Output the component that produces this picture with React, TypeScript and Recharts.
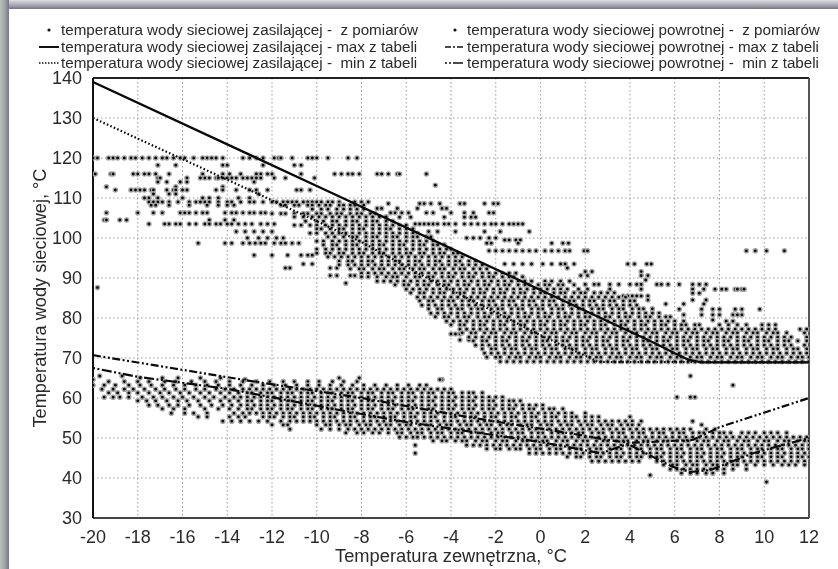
import {
  CartesianGrid,
  ComposedChart,
  Line,
  ReferenceLine,
  Scatter,
  XAxis,
  YAxis,
} from "recharts";

type Row = [number, number[]];

const xTicks = [-20, -18, -16, -14, -12, -10, -8, -6, -4, -2, 0, 2, 4, 6, 8, 10, 12];
const yTicks = [30, 40, 50, 60, 70, 80, 90, 100, 110, 120, 130, 140];

const supplyMax = [
  { x: -20, y: 139 }, { x: -10, y: 113 }, { x: 0, y: 87 }, { x: 5, y: 74 }, { x: 6, y: 71.2 },
  { x: 6.6, y: 69.6 }, { x: 7.2, y: 68.9 }, { x: 12, y: 68.9 },
];
const supplyMin = [
  { x: -20, y: 130 }, { x: -13, y: 112 }, { x: -8, y: 99 }, { x: -5.4, y: 91 }, { x: 0, y: 75.7 },
  { x: 2.6, y: 69 }, { x: 12, y: 68.9 },
];
const returnMax = [
  { x: -20, y: 70.7 }, { x: -13, y: 64.3 }, { x: -8, y: 60 }, { x: -3, y: 55 }, { x: 1.5, y: 51 },
  { x: 3, y: 49.5 }, { x: 4, y: 48.8 }, { x: 6.8, y: 49.5 }, { x: 8, y: 52.7 }, { x: 12, y: 60 },
];
const returnMin = [
  { x: -20, y: 67.5 }, { x: -18, y: 65.3 }, { x: -14, y: 62.3 }, { x: -9, y: 57 }, { x: -6, y: 54 },
  { x: -3, y: 51.5 }, { x: 0, y: 49 }, { x: 2.7, y: 46.2 }, { x: 3.9, y: 48.5 }, { x: 5.9, y: 42.8 },
  { x: 6.7, y: 41.5 }, { x: 7.6, y: 42 }, { x: 9.5, y: 46.2 }, { x: 12, y: 50 },
];

// measured supply temperature, outliers and the thin part of the cloud: [temperature, outdoor temps]
const supplySparseRows: Row[] = [
  [120, [-20, -19.8, -19.3, -19.1, -18.9, -18.6, -18.3, -18.1, -17.8, -17.5, -17.2, -16.9, -16.7, -16.4, -16.1, -15.9, -15.5, -15.1, -14.9, -14.7, -14.5, -14.2, -13.3, -13, -12.7, -12.4, -11.9, -11.7, -11.6, -11.1, -10.4, -10.2, -10, -9.5, -8.6, -8.2]],
  [118.2, [-17.1, -16.3, -14.2, -14, -12.4, -11, -10.7]],
  [116, [-19.9, -19.2, -19.1, -18.2, -18, -17.7, -17.5, -17.2, -16.6, -15.1, -14.2, -13.9, -13.4, -12.7, -12.5, -12.2, -12, -10.7, -9.2, -8.9, -8.6, -8.4, -8.1, -7.3, -7.1, -6.8, -6.4, -6.3, -5.1]],
  [115, [-17.1, -17, -15.8, -15.2, -15, -14.8, -14.5, -14.4, -14.2, -14, -13.8, -13.6, -13.3, -13.1, -12.9, -12.7, -12.5, -11.9, -11.4, -10.1]],
  [114, [-17.1, -16.7, -16.1, -15.8, -12.8]],
  [113.2, [-4.7]],
  [112.8, [-19.4, -16.3, -14.2]],
  [112, [-19, -18.3, -18.1, -17.9, -17.7, -17.4, -17.3, -16.7, -16.4, -16.3, -16, -15.8, -14.5, -14.2, -13.6, -13, -12.7, -12.2, -10.9, -10.7, -10.3]],
  [111, [-17.3, -16.6, -16.3, -12.6]],
  [110, [-17.7, -17.5, -17.1, -16, -15.1, -14.8, -14.4, -13.5, -13]],
  [109, [-17.5, -17.3, -17.1, -16.9, -16.6, -16.2, -15.7, -15.4, -15.2, -15, -14.8, -14.4, -14, -13.8, -13.4, -13, -12.8, -12.4, -12, -11.8, -11.5, -11.3, -11.1, -10.9, -10.6, -10.4, -10.2, -10, -9.8, -9.5, -9.3, -9, -8.3, -8, -7.7]],
  [108.6, [-6.8, -5.4, -5.2, -4.9, -4.5, -3.6, -3.4, -2.5, -2.1, -1.9]],
  [108.2, [-17.4, -17.2, -16.6, -15.7, -14.9, -14.4, -14, -13.7]],
  [107.4, [-7.3, -7.1, -6.4, -5.5, -4.4, -4.2]],
  [106.3, [-19.4, -18, -17.3, -16.9, -16.1, -15.9, -15.7, -15.4, -15.1, -14.9, -14.1, -13.8, -13.6, -13.3, -13, -12.8, -12.5, -12.3, -6.7, -6.5, -6.2, -5.9, -5.1, -4.8, -4, -3.4, -3, -2.3, -2.1]],
  [105.2, [-6.3, -5.8, -4.3, -3.4, -3.1, -2.9]],
  [104.5, [-19.5, -19.4, -18.8, -18.5, -14.8, -14.1, -13.7]],
  [103.5, [-17.5, -16.8, -16.6, -16.3, -16.1, -15.7, -15.4, -15, -14.8, -14.5, -14.3, -14, -13.8, -13.5, -13.2, -12.9, -12.5, -12.2, -11.9, -5.6, -5.4, -5.2, -5, -4.8, -4.6, -4.3, -4.1, -3.8, -3.4, -3.1, -2.8, -2.5, -2.2, -2, -1.7, -1.4, -1.2, -1, -0.8]],
  [101.6, [-13.6, -13.2, -12.8, -12.4, -12, -5, -4.6, -3.8, -2.5, -1.8, -0.5]],
  [100, [-13.1, -12.6, -12.2, -11.8, -11.5, -3.3, -3, -2.7, -2.3, -2]],
  [99.5, [-1.6, -1.4, -1.1, -0.9]],
  [98.7, [-15.3, -14.1, -13.8, -13.3, -13, -12.75, -12.5, -12.3, -11.9, -11.6, -11.4, -11.1, -10.8, -2.4, -2.2, -1, 0.5, 1, 1.25]],
  [96.8, [-2.3, -2, -1.7, -1.4, -1.1, -0.8, -0.5, -0.2, 0.2, 0.5, 0.8, 1.1, 1.3, 1.95, 2.1, 9.2, 9.6, 10.1, 10.9]],
  [95.7, [-12.8, -12, -11.3, -10.7, -10.4, -10.2]],
  [93.5, [-10.6, -10.2, -1.6, -1.2, -0.8, -0.4, 0.1, 0.5, 0.9, 1.1, 1.5, 3.9, 4.2, 4.75, 4.95]],
  [92.5, [-11.4, -11.2, -9.4, -9.1, 1.2]],
  [91.6, [2, 2.3, 4.5]],
  [90.6, [-9.4, -9.1, -8.5, -8.3, 1.8, 2.1, 4.5, 4.8]],
  [89.5, [4.7]],
  [88.7, [-8.7]],
  [88.4, [2, 2.4, 2.6, 3.1, 3.5, 4, 4.3, 4.5, 5.2, 5.4, 5.7, 6.2, 6.8, 7.1, 7.4]],
  [87.6, [-19.8]],
  [87.2, [2.1, 3.1, 4.5, 6.8, 7.3, 7.8, 8.1, 8.3, 8.7, 8.8, 9, 9.1]],
  [86.2, [6.8, 7.1]],
  [85.5, [3.7, 3.9, 4.1, 4.3, 4.5, 4.8]],
  [84.5, [4.8, 6.8, 7.4]],
  [83.5, [5.6, 6.4, 7.3]],
  [82.2, [6.2, 7.2, 7.7, 8, 8.7, 9, 9.8]],
  [80.8, [6.4, 7.2, 7.7, 8, 8.6, 8.8, 9]],
  [79.5, [7.7]],
  [76, [-4, -3.8, -3.6]],
  [74.5, [-3.2, -3.6]],
];

// the thick part of the supply cloud
const supplyDenseRows: Row[] = [
  [108.2, [-11.6, -11.4, -11, -10.8, -10.4, -10.2, -9.9, -9.6, -9.4, -9, -8.8, -8.5, -8.3, -7.9]],
  [107.2, [-10.2, -9.8, -9.5, -9.1, -8.8, -8.5, -8.2, -7.9]],
  [106.1, [-12, -11.6, -11.4, -11, -10.6, -10.4, -10, -9.8, -9.4, -9.1, -8.9, -8.5, -8.2, -8, -7.6, -7.4]],
  [105.3, [-11, -10.6, -10.2, -9.9, -9.6, -9.3, -9, -8.7, -8.4, -8.1, -7.8, -7.5, -7.2, -6.9]],
  [104.2, [-10.5, -10, -9.7, -9.3, -9.1, -8.7, -8.4, -8.2, -7.8, -7.5, -7.3, -6.9, -6.6]],
  [103.2, [-11, -10.7, -10.3, -10, -9.6, -9.3, -9, -8.7, -8.4, -8.1, -7.8, -7.5, -7.2, -6.9, -6.6, -6.3, -6]],
  [102.3, [-10, -9.8, -9.4, -9, -8.8, -8.4, -8.1, -7.9, -7.5, -7.2, -6.9, -6.7, -6.3, -6, -5.7]],
  [101.2, [-10.3, -10, -9.6, -9.3, -9, -8.7, -8.4, -8.1, -7.8, -7.5, -7.2, -6.9, -6.6, -6.3, -6, -5.7, -5.5]],
  [100.3, [-9.5, -9.2, -8.8, -8.4, -8.2, -7.8, -7.5, -7.3, -6.9, -6.6, -6.4, -6, -5.7, -5.5, -5.1, -4.9]],
  [99.2, [-10, -9.7, -9.3, -9, -8.7, -8.4, -8.1, -7.8, -7.5, -7.2, -6.9, -6.6, -6.3, -6, -5.7, -5.4, -5.1, -4.8]],
  [98.3, [-9.7, -9.3, -9.1, -8.7, -8.4, -8.2, -7.8, -7.5, -7.2, -7, -6.6, -6.3, -6.1, -5.7, -5.4, -5.2, -4.8, -4.6, -4.3]],
  [97.2, [-10, -9.6, -9.3, -9, -8.7, -8.4, -8.1, -7.8, -7.5, -7.2, -6.9, -6.6, -6.3, -6, -5.7, -5.4, -5.1, -4.8, -4.5, -4.2, -4]],
  [96.2, [-10, -9.6, -9.4, -9, -8.8, -8.4, -8.1, -7.9, -7.5, -7.2, -7, -6.6, -6.3, -6, -5.8, -5.4, -5.2, -4.8, -4.5, -4.3, -3.9, -3.7]],
  [95.3, [-9.5, -9.2, -8.9, -8.6, -8.3, -8, -7.7, -7.4, -7.1, -6.8, -6.5, -6.2, -5.9, -5.6, -5.3, -5, -4.7, -4.4, -4.1, -3.8, -3.5]],
  [94.2, [-9, -8.6, -8.4, -8, -7.7, -7.5, -7.1, -6.8, -6.5, -6.3, -5.9, -5.6, -5.4, -5, -4.7, -4.5, -4.1, -3.8, -3.6, -3.2, -2.9]],
  [93.3, [-9, -8.6, -8.3, -8, -7.7, -7.4, -7.1, -6.8, -6.5, -6.2, -5.9, -5.6, -5.3, -5, -4.7, -4.4, -4.1, -3.8, -3.5, -3.2, -2.9, -2.6]],
  [92.3, [-8.5, -8.1, -7.9, -7.5, -7.2, -7, -6.6, -6.3, -6.1, -5.7, -5.4, -5.2, -4.8, -4.5, -4.3, -3.9, -3.6, -3.4, -3, -2.7, -2.4]],
  [91.2, [-8, -7.7, -7.4, -7.1, -6.8, -6.5, -6.2, -5.9, -5.6, -5.3, -5, -4.7, -4.4, -4.1, -3.8, -3.5, -3.2, -2.9, -2.6, -2.3, -2, -1.7, -1.4, -1.1]],
  [90.3, [-8, -7.7, -7.3, -6.9, -6.6, -6.4, -6, -5.6, -5.4, -5, -4.8, -4.4, -4.1, -3.9, -3.5, -3.2, -3, -2.6, -2.3, -2.1, -1.7, -1.4, -1.2, -0.8]],
  [89.2, [-7.3, -7, -6.7, -6.4, -6.1, -5.8, -5.5, -5.2, -4.9, -4.6, -4.3, -4, -3.7, -3.4, -3.1, -2.8, -2.5, -2.2, -1.9, -1.6, -1.3, -1, -0.7, -0.4, 0.2, 0.5, 0.9, 1.3]],
  [88.3, [-6.5, -6.1, -5.9, -5.5, -5.2, -5, -4.6, -4.3, -4.1, -3.7, -3.4, -3.2, -2.8, -2.5, -2.3, -1.9, -1.6, -1.4, -1, -0.7, -0.5, -0.1, 0.2, 0.4, 0.8, 1, 1.5]],
  [87.2, [-6, -5.7, -5.4, -5.1, -4.8, -4.5, -4.2, -3.9, -3.6, -3.3, -3, -2.7, -2.4, -2.1, -1.8, -1.5, -1.2, -0.9, -0.6, -0.3, 0, 0.3, 0.6, 0.9, 1.2, 1.7]],
  [86.3, [-5.8, -5.4, -5.2, -4.8, -4.5, -4.3, -3.9, -3.6, -3.4, -3, -2.7, -2.5, -2.1, -1.8, -1.6, -1.2, -0.9, -0.7, -0.3, 0, 0.2, 0.6, 0.9, 1.1, 1.5, 1.8, 2, 2.4, 2.7, 3, 3.3]],
  [85.2, [-5.5, -5.2, -4.9, -4.6, -4.3, -4, -3.7, -3.4, -3.1, -2.8, -2.5, -2.2, -1.9, -1.6, -1.3, -1, -0.7, -0.4, -0.1, 0.2, 0.5, 0.8, 1.1, 1.4, 1.7, 2, 2.3, 2.6, 2.9, 3.2, 3.5, 3.8]],
  [84.3, [-5.4, -5, -4.8, -4.4, -4.1, -3.9, -3.5, -3.2, -3, -2.6, -2.3, -2.1, -1.7, -1.4, -1.2, -0.8, -0.5, -0.3, 0.1, 0.4, 0.6, 1, 1.3, 1.5, 1.9, 2.2, 2.4, 2.8, 3.1, 3.3, 3.7, 4, 4.2]],
  [83.2, [-5.3, -5, -4.7, -4.4, -4.1, -3.8, -3.5, -3.2, -2.9, -2.6, -2.3, -2, -1.7, -1.4, -1.1, -0.8, -0.5, -0.2, 0.1, 0.4, 0.7, 1, 1.3, 1.6, 1.9, 2.2, 2.5, 2.8, 3.1, 3.4, 3.7, 4, 4.3]],
  [82.3, [-5, -4.6, -4.4, -4, -3.7, -3.5, -3.1, -2.8, -2.6, -2.2, -1.9, -1.7, -1.3, -1, -0.8, -0.4, -0.1, 0.1, 0.5, 0.8, 1, 1.4, 1.7, 1.9, 2.3, 2.6, 2.8, 3.2, 3.5, 3.7, 4.1, 4.4, 4.6, 5]],
  [81.2, [-4.9, -4.6, -4.3, -4, -3.7, -3.4, -3.1, -2.8, -2.5, -2.2, -1.9, -1.6, -1.3, -1, -0.7, -0.4, -0.1, 0.2, 0.5, 0.8, 1.1, 1.4, 1.7, 2, 2.3, 2.6, 2.9, 3.2, 3.5, 3.8, 4.1, 4.4, 4.7, 5, 5.3]],
  [80.3, [-4.7, -4.3, -4.1, -3.7, -3.4, -3.2, -2.8, -2.5, -2.3, -1.9, -1.6, -1.4, -1, -0.7, -0.5, -0.1, 0.2, 0.4, 0.8, 1.1, 1.3, 1.7, 2, 2.2, 2.6, 2.9, 3.1, 3.5, 3.8, 4, 4.4, 4.7, 4.9, 5.3, 5.6, 5.8]],
  [79.2, [-4.2, -3.9, -3.6, -3.3, -3, -2.7, -2.4, -2.1, -1.8, -1.5, -1.2, -0.9, -0.6, -0.3, 0, 0.3, 0.6, 0.9, 1.2, 1.5, 1.8, 2.1, 2.4, 2.7, 3, 3.3, 3.6, 3.9, 4.2, 4.5, 4.8, 5.1, 5.4, 5.7, 6, 6.4, 8.3, 8.6]],
  [78.3, [-4, -3.6, -3.4, -3, -2.7, -2.5, -2.1, -1.8, -1.6, -1.2, -0.9, -0.7, -0.3, 0, 0.2, 0.6, 0.9, 1.1, 1.5, 1.8, 2, 2.4, 2.7, 2.9, 3.3, 3.6, 3.8, 4.2, 4.5, 4.7, 5.1, 5.4, 5.6, 6, 6.3, 6.5, 6.9, 7.1, 8, 8.4, 8.8, 9.2, 9.9, 10.2, 10.5]],
  [77.2, [-3.6, -3.3, -3, -2.7, -2.4, -2.1, -1.8, -1.5, -1.2, -0.9, -0.6, -0.3, 0, 0.3, 0.6, 0.9, 1.2, 1.5, 1.8, 2.1, 2.4, 2.7, 3, 3.3, 3.6, 3.9, 4.2, 4.5, 4.8, 5.1, 5.4, 5.7, 6, 6.3, 6.6, 6.9, 7.2, 7.5, 7.8, 8.1, 8.4, 8.7, 9, 9.3, 9.6, 9.9, 10.2, 10.5, 11.6, 11.9]],
  [76.3, [-3.5, -3.1, -2.9, -2.5, -2.2, -2, -1.6, -1.3, -1.1, -0.7, -0.4, -0.2, 0.2, 0.5, 0.7, 1.1, 1.4, 1.6, 2, 2.3, 2.5, 2.9, 3.2, 3.4, 3.8, 4.1, 4.3, 4.7, 5, 5.2, 5.6, 5.9, 6.1, 6.5, 6.8, 7, 7.4, 7.7, 7.9, 8.3, 8.6, 8.8, 9.2, 9.5, 9.7, 10.1, 10.4, 10.6, 11, 11.8]],
  [75.2, [-3.2, -2.9, -2.6, -2.3, -2, -1.7, -1.4, -1.1, -0.8, -0.5, -0.2, 0.1, 0.4, 0.7, 1, 1.3, 1.6, 1.9, 2.2, 2.5, 2.8, 3.1, 3.4, 3.7, 4, 4.3, 4.6, 4.9, 5.2, 5.5, 5.8, 6.1, 6.4, 6.7, 7, 7.3, 7.6, 7.9, 8.2, 8.5, 8.8, 9.1, 9.4, 9.7, 10, 10.3, 10.6, 10.9, 11.2, 11.9]],
  [74.3, [-3, -2.6, -2.4, -2, -1.7, -1.5, -1.1, -0.8, -0.6, -0.2, 0.1, 0.3, 0.7, 1, 1.2, 1.6, 1.9, 2.1, 2.5, 2.8, 3, 3.4, 3.7, 3.9, 4.3, 4.6, 4.8, 5.2, 5.5, 5.7, 6.1, 6.4, 6.6, 7, 7.3, 7.5, 7.9, 8.2, 8.4, 8.8, 9.1, 9.3, 9.7, 10, 10.2, 10.6, 10.9, 11.1, 11.5, 11.9]],
  [73.2, [-2.9, -2.6, -2.3, -2, -1.7, -1.4, -1.1, -0.8, -0.5, -0.2, 0.1, 0.4, 0.7, 1, 1.3, 1.6, 1.9, 2.2, 2.5, 2.8, 3.1, 3.4, 3.7, 4, 4.3, 4.6, 4.9, 5.2, 5.5, 5.8, 6.1, 6.4, 6.7, 7, 7.3, 7.6, 7.9, 8.2, 8.5, 8.8, 9.1, 9.4, 9.7, 10, 10.3, 10.6, 10.9, 11.2, 11.8]],
  [72.3, [-2.6, -2.2, -2, -1.6, -1.3, -1.1, -0.7, -0.4, -0.2, 0.2, 0.5, 0.7, 1.1, 1.4, 1.6, 2, 2.3, 2.5, 2.9, 3.2, 3.4, 3.8, 4.1, 4.3, 4.7, 5, 5.2, 5.6, 5.9, 6.1, 6.5, 6.8, 7, 7.4, 7.7, 7.9, 8.3, 8.6, 8.8, 9.2, 9.5, 9.7, 10.1, 10.4, 10.6, 11, 11.3, 11.5, 11.9]],
  [71.2, [-2.5, -2.2, -1.9, -1.6, -1.3, -1, -0.7, -0.4, -0.1, 0.2, 0.5, 0.8, 1.1, 1.4, 1.7, 2, 2.3, 2.6, 2.9, 3.2, 3.5, 3.8, 4.1, 4.4, 4.7, 5, 5.3, 5.6, 5.9, 6.2, 6.5, 6.8, 7.1, 7.4, 7.7, 8, 8.3, 8.6, 8.9, 9.2, 9.5, 9.8, 10.1, 10.4, 10.7, 11, 11.3, 11.6, 11.9]],
  [70.2, [-2.4, -2, -1.8, -1.4, -1.1, -0.9, -0.5, -0.2, 0, 0.4, 0.7, 0.9, 1.3, 1.6, 1.8, 2.2, 2.5, 2.7, 3.1, 3.4, 3.6, 4, 4.3, 4.5, 4.9, 5.2, 5.4, 5.8, 6.1, 6.3, 6.7, 7, 7.2, 7.6, 7.9, 8.1, 8.5, 8.8, 9, 9.4, 9.7, 9.9, 10.3, 10.6, 10.8, 11.2, 11.5, 11.7, 12]],
  [69.1, [-1.8, -1.5, -1.2, -0.9, -0.6, -0.3, 0, 0.3, 0.6, 0.9, 1.2, 1.5, 1.8, 2.1, 2.4, 2.7, 3, 3.3, 3.6, 3.9, 4.2, 4.5, 4.8, 5.1, 5.4, 5.7, 6, 6.3, 6.6, 6.9, 7.2, 7.5, 7.8, 8.1, 8.4, 8.7, 9, 9.3, 9.6, 9.9, 10.2, 10.5, 10.8, 11.1, 11.4, 11.7, 12]],
];

// measured return temperature
const returnRows: Row[] = [
  [65.5, [-19.7, -18.7, 6.7]],
  [65, [-17.9, -16.9, -16.2, -15.2, -14.3, -9, -8.1]],
  [64.6, [-20, -13.2, -4.4, -4.5]],
  [64.1, [-19.3, -18.6, -18, -17.5, -16.8, -16.3, -15.6, -15, -14.5, -13.9, -13.3, -12.7, -12.1, -11.5, -11, -10.4, -9.9, -9.3, -8.8, -8.2]],
  [63.2, [-20, -19.5, -19, -18.4, -17.9, -17.4, -16.9, -16.4, -15.9, -15.4, -14.9, -14.4, -13.9, -13.4, -12.9, -12.4, -11.9, -11.4, -10.9, -10.4, -9.9, -9.4, -8.9, -8.4, -7.9, -7.4, -6.9, -6.4, -5.9, -5.4, -5.1, 8.6]],
  [62.2, [-19.6, -19.1, -18.6, -18.2, -17.7, -17.2, -16.8, -16.3, -15.9, -15.4, -15, -14.5, -14.1, -13.7, -13.3, -13, -12.7, -12.4, -12.1, -11.8, -11.5, -11.2, -10.9, -10.6, -10.3, -10, -9.7, -9.4, -9.1, -8.8, -8.5, -8.2, -7.9, -7.6, -7.3, -7, -6.7, -6.4, -6.1, -5.8, -5.5, -5.2, -4.9, -4.6, -4.3, -4]],
  [61.3, [-19.3, -18.9, -18.4, -18, -17.5, -17, -16.6, -16.1, -15.7, -15.2, -14.8, -14.3, -13.9, -13.5, -13.1, -12.9, -12.5, -12.2, -12, -11.6, -11.3, -11.1, -10.7, -10.4, -10.2, -9.8, -9.5, -9.3, -8.9, -8.6, -8.4, -8, -7.7, -7.5, -7.1, -6.8, -6.6, -6.2, -5.9, -5.7, -5.3, -5, -4.8, -4.4, -4.1, -3.9, -3.5, -3.2, -3, -2.6]],
  [60.2, [-19.5, -19.1, -18.8, -18.4, -17.8, -17.3, -16.9, -16.4, -16, -15.5, -15, -14.6, -14.1, -13.7, -13.4, -13.1, -12.8, -12.5, -12.2, -11.9, -11.6, -11.3, -11, -10.7, -10.4, -10.1, -9.8, -9.5, -9.2, -8.9, -8.6, -8.3, -8, -7.7, -7.4, -7.1, -6.8, -6.5, -6.2, -5.9, -5.6, -5.3, -5, -4.7, -4.4, -4.1, -3.8, -3.5, -3.2, -2.9, -2.6, -2.3, -2, -1.7, 6.1, 6.7, 6.9]],
  [59.3, [-18, -17.6, -17.2, -16.7, -16.2, -15.8, -15.3, -14.8, -14.3, -13.9, -13.5, -13.1, -12.9, -12.5, -12.2, -12, -11.6, -11.3, -11.1, -10.7, -10.4, -10.2, -9.8, -9.5, -9.3, -8.9, -8.6, -8.4, -8, -7.7, -7.5, -7.1, -6.8, -6.6, -6.2, -5.9, -5.7, -5.3, -5, -4.8, -4.4, -4.1, -3.9, -3.5, -3.2, -3, -2.6, -2.3, -2.1, -1.7, -1.4, -1.2, -0.9]],
  [58.2, [-17.5, -17.1, -16.6, -16.2, -15.7, -15.2, -14.7, -14.2, -13.8, -13.4, -13.1, -12.8, -12.5, -12.2, -11.9, -11.6, -11.3, -11, -10.7, -10.4, -10.1, -9.8, -9.5, -9.2, -8.9, -8.6, -8.3, -8, -7.7, -7.4, -7.1, -6.8, -6.5, -6.2, -5.9, -5.6, -5.3, -5, -4.7, -4.4, -4.1, -3.8, -3.5, -3.2, -2.9, -2.6, -2.3, -2, -1.7, -1.4, -1.1, -0.8, -0.5, -0.2, 0.1]],
  [57.3, [-16.9, -16.4, -15.9, -15, -14.4, -13.9, -13.5, -13.1, -12.9, -12.5, -12.2, -12, -11.6, -11.3, -11.1, -10.7, -10.4, -10.2, -9.8, -9.5, -9.3, -8.9, -8.6, -8.4, -8, -7.7, -7.5, -7.1, -6.8, -6.6, -6.2, -5.9, -5.7, -5.3, -5, -4.8, -4.4, -4.1, -3.9, -3.5, -3.2, -3, -2.6, -2.3, -2.1, -1.7, -1.4, -1.2, -0.8, -0.5, -0.3, 0.1, 0.4, 0.6, 1]],
  [56.2, [-16.5, -15.9, -15.5, -14.9, -13.7, -13.3, -13, -12.7, -12.4, -12.1, -11.8, -11.5, -11.2, -10.9, -10.6, -10.3, -10, -9.7, -9.4, -9.1, -8.8, -8.5, -8.2, -7.9, -7.6, -7.3, -7, -6.7, -6.4, -6.1, -5.8, -5.5, -5.2, -4.9, -4.6, -4.3, -4, -3.7, -3.4, -3.1, -2.8, -2.5, -2.2, -1.9, -1.6, -1.3, -1, -0.7, -0.4, -0.1, 0.2, 0.5, 0.8, 1.1, 1.4, 2]],
  [55.3, [-15.3, -14.9, -13.9, -13.5, -13.2, -12.4, -12.1, -11.9, -11.5, -11.2, -11, -10.6, -10.3, -10.1, -9.7, -9.4, -9.2, -8.8, -8.5, -8.3, -7.9, -7.6, -7.4, -7, -6.7, -6.5, -6.1, -5.8, -5.6, -5.2, -4.9, -4.7, -4.3, -4, -3.8, -3.4, -3.1, -2.9, -2.5, -2.2, -2, -1.6, -1.3, -1.1, -0.7, -0.4, -0.2, 0.2, 0.5, 0.7, 1.1, 1.4, 1.6, 2, 2.3, 2.6, 4]],
  [54.2, [-14.2, -13.8, -13.4, -13, -12.6, -12.2, -11.6, -11.2, -10.9, -10.6, -10.3, -10, -9.7, -9.4, -9.1, -8.8, -8.5, -8.2, -7.9, -7.6, -7.3, -7, -6.7, -6.4, -6.1, -5.8, -5.5, -5.2, -4.9, -4.6, -4.3, -4, -3.7, -3.4, -3.1, -2.8, -2.5, -2.2, -1.9, -1.6, -1.3, -1, -0.7, -0.4, -0.1, 0.2, 0.5, 0.8, 1.1, 1.4, 1.7, 2, 2.3, 2.6, 2.9, 3.2, 3.5, 3.8, 4.1, 4.5, 6.8]],
  [53.3, [-12, -11.5, -11.3, -10, -9.6, -9.4, -9, -8.7, -8.5, -8.1, -7.8, -7.6, -7.2, -6.9, -6.7, -6.3, -6, -5.8, -5.4, -5.1, -4.9, -4.5, -4.2, -4, -3.6, -3.3, -3.1, -2.7, -2.4, -2.2, -1.8, -1.5, -1.3, -0.9, -0.6, -0.4, 0, 0.3, 0.5, 0.9, 1.2, 1.4, 1.8, 2.1, 2.3, 2.7, 3, 3.2, 3.6, 3.9, 4.1, 4.4, 7.2]],
  [52.2, [-11.2, -9.8, -9.4, -9, -8.6, -8.3, -8, -7.7, -7.4, -7.1, -6.8, -6.5, -6.2, -5.9, -5.6, -5.3, -5, -4.7, -4.4, -4.1, -3.8, -3.5, -3.2, -2.9, -2.6, -2.3, -2, -1.7, -1.4, -1.1, -0.8, -0.5, -0.2, 0.1, 0.4, 0.7, 1, 1.3, 1.6, 1.9, 2.2, 2.5, 2.8, 3.1, 3.4, 3.7, 4, 4.3, 4.6, 4.9, 5.2, 5.5, 5.8, 6.1, 6.4, 6.7, 7.4, 7.8]],
  [51.3, [-8.7, -8.2, -7.9, -7.5, -7.2, -6.8, -6.4, -6.2, -5.8, -5.5, -5.3, -4.9, -4.6, -4.4, -4, -3.7, -3.5, -3.1, -2.8, -2.6, -2.2, -1.9, -1.7, -1.3, -1, -0.8, -0.4, -0.1, 0.1, 0.5, 0.8, 1, 1.4, 1.7, 1.9, 2.3, 2.6, 2.8, 3.2, 3.5, 3.7, 4.1, 4.4, 4.6, 5, 5.3, 5.5, 5.9, 6.2, 6.4, 6.8, 7.1, 7.3, 7.7, 8, 8.2, 8.5, 9, 9.3, 9.6, 10, 10.3, 10.6, 11]],
  [50.2, [-6.3, -6, -5.7, -5.5, -5.2, -4.9, -4.6, -4.3, -4, -3.7, -3.4, -3.1, -2.8, -2.5, -2.2, -1.9, -1.6, -1.3, -1, -0.7, -0.4, -0.1, 0.2, 0.5, 0.8, 1.1, 1.4, 1.7, 2, 2.3, 2.6, 2.9, 3.2, 3.5, 3.8, 4.1, 4.4, 4.7, 5, 5.3, 5.6, 5.9, 6.2, 6.5, 6.8, 7.1, 7.4, 7.7, 8, 8.3, 8.6, 8.9, 9.2, 9.5, 9.8, 10.1, 10.4, 10.7, 11, 11.3, 11.6, 11.9]],
  [49.3, [-4.8, -4.4, -4.2, -3.8, -3.5, -3.3, -2.9, -2.6, -2.4, -2, -1.7, -1.5, -1.1, -0.8, -0.6, -0.2, 0.1, 0.3, 0.7, 1, 1.2, 1.6, 1.9, 2.1, 2.5, 2.8, 3, 3.4, 3.7, 3.9, 4.3, 4.6, 4.8, 5.2, 5.5, 5.7, 6.1, 6.4, 6.6, 7, 7.3, 7.5, 7.9, 8.2, 8.4, 8.8, 9.1, 9.3, 9.7, 10, 10.2, 10.6, 10.9, 11.1, 11.5, 11.8, 12]],
  [48.2, [-5.6, -3.3, -3, -2.7, -2.4, -2.1, -1.8, -1.5, -1.2, -0.9, -0.6, -0.3, 0, 0.3, 0.6, 0.9, 1.2, 1.5, 1.8, 2.1, 2.4, 2.7, 3, 3.3, 3.6, 3.9, 4.2, 4.5, 4.8, 5.1, 5.4, 5.7, 6, 6.3, 6.6, 6.9, 7.2, 7.5, 7.8, 8.1, 8.4, 8.7, 9, 9.3, 9.6, 9.9, 10.2, 10.5, 10.8, 11.1, 11.4, 11.7, 12]],
  [47.3, [-2.4, -2, -1.8, -1.4, -1.1, -0.9, -0.5, -0.2, 0, 0.4, 0.7, 0.9, 1.3, 1.6, 1.8, 2.2, 2.5, 2.7, 3.1, 3.4, 3.6, 4, 4.3, 4.5, 4.9, 5.2, 5.4, 5.8, 6.1, 6.3, 6.7, 7, 7.2, 7.6, 7.9, 8.1, 8.5, 8.8, 9, 9.4, 9.7, 9.9, 10.3, 10.6, 10.8, 11.2, 11.5, 11.7, 12]],
  [46.2, [-5.6, -0.5, -0.2, 0.1, 0.4, 0.7, 1, 1.3, 1.6, 1.9, 2.2, 2.5, 2.8, 3.1, 3.4, 3.7, 4, 4.3, 4.6, 4.9, 5.2, 5.5, 5.8, 6.1, 6.4, 6.7, 7, 7.3, 7.6, 7.9, 8.2, 8.5, 8.8, 9.1, 9.4, 9.7, 10, 10.3, 10.6, 10.9, 11.2, 11.5, 11.8]],
  [45.3, [1.2, 1.6, 1.8, 2.2, 2.5, 2.7, 3.1, 3.4, 3.6, 4, 4.3, 4.5, 4.9, 5.2, 5.4, 5.8, 6.1, 6.3, 6.7, 7, 7.2, 7.6, 7.9, 8.1, 8.5, 8.8, 9, 9.4, 9.7, 9.9, 10.3, 10.6, 10.8, 11.2, 11.5, 11.7, 12]],
  [44.2, [2.3, 2.6, 2.9, 3.2, 3.5, 3.8, 4.1, 4.4, 5.2, 5.5, 5.8, 6.1, 6.4, 6.7, 7, 7.3, 7.6, 7.9, 8.2, 8.5, 8.8, 9.1, 9.4, 9.7, 10, 10.3, 10.6, 10.9, 11.2, 11.5, 11.8]],
  [43.3, [5.5, 5.9, 6.1, 6.5, 6.8, 7, 7.4, 7.7, 7.9, 8.3, 8.6, 8.8, 9.2, 9.6, 10, 10.4, 10.8, 11.1, 11.4, 11.8]],
  [42.2, [5.8, 6.1, 6.4, 6.7, 7, 7.3, 7.6, 7.9, 8.2, 8.6, 9.2]],
  [41.2, [6.3, 6.7, 7, 7.4, 7.7, 8.2]],
  [40.7, [4.9]],
  [39, [10.1]],
];

const legendLeft = [
  "temperatura wody sieciowej zasilającej -  z pomiarów",
  "temperatura wody sieciowej zasilającej - max z tabeli",
  "temperatura wody sieciowej zasilającej -  min z tabeli",
];
const legendRight = [
  "temperatura wody sieciowej powrotnej -  z pomiarów",
  "temperatura wody sieciowej powrotnej - max z tabeli",
  "temperatura wody sieciowej powrotnej -  min z tabeli",
];

const toPoints = (rows: Row[]) => rows.flatMap(([y, xs]) => xs.map((x) => ({ x, y })));
const supplyPoints = [...toPoints(supplySparseRows), ...toPoints(supplyDenseRows)];
const returnPoints = toPoints(returnRows);

const FONT = "'Liberation Sans', Arial, sans-serif";
const INK = "#2a2a2a";
const DASH_MAX = "8 2.5 2 2.5 2 2.5";
const DASH_MIN = "2 2.5 2 2.5 10 2.5";

function Dot({ cx, cy }: { cx?: number; cy?: number }) {
  return <circle cx={cx} cy={cy} r={2.1} fill="#0a0a0a" stroke="#a6a6a6" strokeWidth={1.4} />;
}

function LegendSymbol({ kind }: { kind: number }) {
  return (
    <svg width={20} height={10} style={{ position: "absolute", left: -22, top: 4 }}>
      {kind === 0 ? (
        <circle cx={10} cy={5} r={1.6} fill="#111" />
      ) : (
        <line
          x1={0}
          y1={5}
          x2={20}
          y2={5}
          stroke="#111"
          strokeWidth={kind === 1 ? 2 : 1.6}
          strokeDasharray={kind === 2 ? "1.5 1.5" : kind === 3 ? "6 2 2 2 6" : kind === 4 ? "2 2 2 2 10" : undefined}
        />
      )}
    </svg>
  );
}

function LegendColumn({ left, items, kinds }: { left: number; items: string[]; kinds: number[] }) {
  return (
    <>
      {items.map((text, i) => (
        <div
          key={text}
          style={{
            position: "absolute",
            left,
            top: 21 + i * 16.5,
            fontFamily: FONT,
            fontSize: 15.2,
            lineHeight: "17px",
            color: INK,
            whiteSpace: "pre",
          }}
        >
          <LegendSymbol kind={kinds[i]} />
          {text}
        </div>
      ))}
    </>
  );
}

export default function App() {
  return (
    <div
      style={{
        position: "absolute",
        left: 0,
        top: 0,
        width: 838,
        height: 569,
        overflow: "hidden",
        background: "#fff",
        filter: "blur(0.5px)",
      }}
    >
      <div style={{ position: "absolute", left: 0, top: 0, width: 838, height: 9, background: "linear-gradient(to bottom, #dcdde0, #a9abb6 55%, #747689)" }} />
      <div style={{ position: "absolute", left: 0, top: 0, width: 9, height: 569, background: "linear-gradient(to right, #b9c0ba, #a6aaa8 45%, #75768b)" }} />
      <LegendColumn left={61} items={legendLeft} kinds={[0, 1, 2]} />
      <LegendColumn left={467} items={legendRight} kinds={[0, 3, 4]} />
      <ComposedChart
        width={838}
        height={569}
        margin={{ top: 78, right: 29, bottom: 21, left: 43 }}
        style={{ position: "absolute", left: 0, top: 0 }}
      >
        <CartesianGrid stroke="#9a9a9a" strokeWidth={1} strokeDasharray="1.5 2.5" />
        <XAxis
          type="number"
          dataKey="x"
          domain={[-20, 12]}
          ticks={xTicks}
          interval={0}
          height={30}
          allowDataOverflow
          tickLine={false}
          axisLine={{ stroke: "#444", strokeWidth: 2 }}
          tickMargin={6}
          tick={{ fontSize: 18, fill: INK, fontFamily: FONT }}
          label={{ value: "Temperatura zewnętrzna, °C", position: "insideBottom", offset: -14, fontSize: 18.3, fill: INK, fontFamily: FONT }}
        />
        <YAxis
          type="number"
          dataKey="y"
          domain={[30, 140]}
          ticks={yTicks}
          interval={0}
          width={50}
          allowDataOverflow
          tickLine={false}
          axisLine={{ stroke: "#111", strokeWidth: 2 }}
          tickMargin={5}
          tick={{ fontSize: 18, fill: INK, fontFamily: FONT }}
          label={{ value: "Temperatura wody sieciowej, °C", angle: -90, position: "insideLeft", offset: -3, fontSize: 18.2, fill: INK, fontFamily: FONT, style: { textAnchor: "middle" } }}
        />
        <ReferenceLine y={140} stroke="#222" strokeWidth={2} />
        <ReferenceLine x={12} stroke="#555" strokeWidth={2} />
        <Scatter data={supplyPoints} shape={<Dot />} isAnimationActive={false} />
        <Scatter data={returnPoints} shape={<Dot />} isAnimationActive={false} />
      </ComposedChart>
      {/* Recharts paints Scatter above Line, so the table curves sit in a second chart on top */}
      <ComposedChart
        width={838}
        height={569}
        margin={{ top: 78, right: 29, bottom: 51, left: 93 }}
        style={{ position: "absolute", left: 0, top: 0 }}
      >
        <XAxis hide type="number" dataKey="x" domain={[-20, 12]} allowDataOverflow />
        <YAxis hide type="number" dataKey="y" domain={[30, 140]} allowDataOverflow />
        <Line data={supplyMax} dataKey="y" stroke="#0a0a0a" strokeWidth={2.4} dot={false} isAnimationActive={false} />
        <Line data={supplyMin} dataKey="y" stroke="#0a0a0a" strokeWidth={2.2} strokeDasharray="1.6 2.2" dot={false} isAnimationActive={false} />
        <Line data={returnMax} dataKey="y" stroke="#0a0a0a" strokeWidth={2.2} strokeDasharray={DASH_MAX} dot={false} isAnimationActive={false} />
        <Line data={returnMin} dataKey="y" stroke="#0a0a0a" strokeWidth={2.2} strokeDasharray={DASH_MIN} dot={false} isAnimationActive={false} />
      </ComposedChart>
    </div>
  );
}
